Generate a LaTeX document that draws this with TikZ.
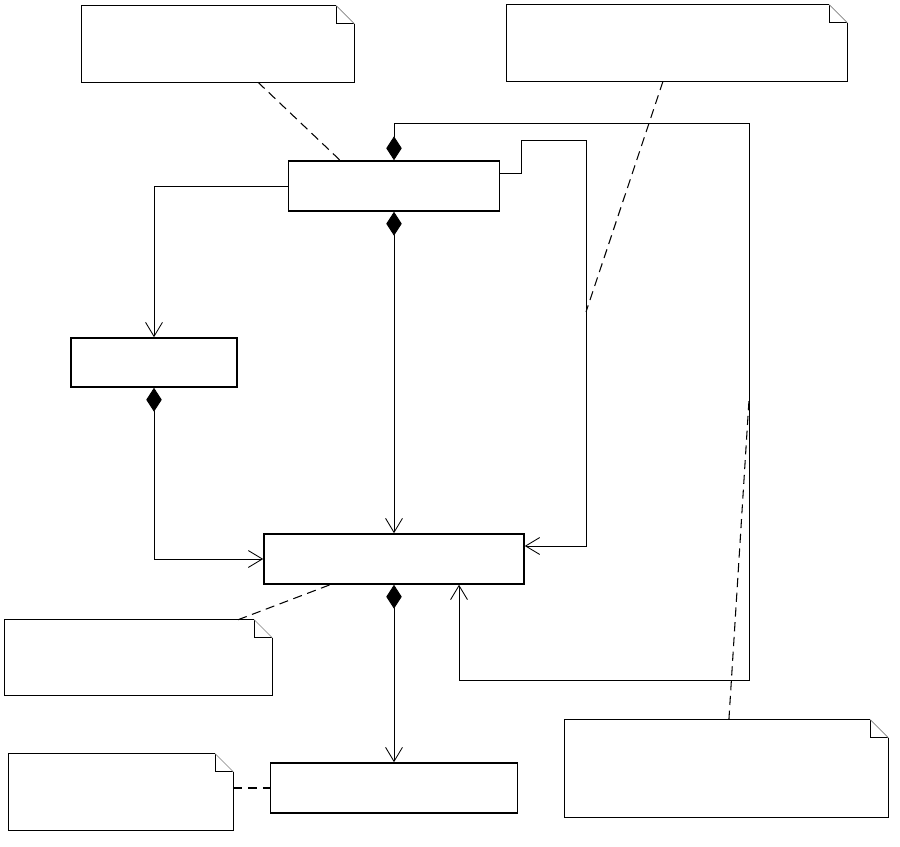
\documentclass[tikz,border=0pt]{standalone}
\usepackage{tikz}
\usetikzlibrary{arrows.meta,positioning,calc}

\tikzset{
    cls/.style={draw, line width=1.1pt, inner sep=0pt},
    note/.style={inner sep=0pt},
    link/.style={line width=0.6pt},
    assoc/.style={link, -{Straight Barb[length=10pt,width=12pt]}},
    comp/.style={link, {Diamond[length=17pt,width=11pt]}-{Straight Barb[length=10pt,width=12pt]}},
    anchorline/.style={line width=0.75pt, dash pattern=on 6.5pt off 4pt}
}

\newlength{\fold}
\setlength{\fold}{0.45cm}
\newcommand{\dognote}[1]{%
    \draw[line width=0.7pt] ([xshift=-\fold]#1.north east) -- (#1.north west) -- (#1.south west)
        -- (#1.south east) -- ([yshift=-\fold]#1.north east);
    \draw[line width=0.7pt] ([xshift=-\fold]#1.north east) |- ([yshift=-\fold]#1.north east);
    \draw[gray, line width=0.4pt] ([xshift=-\fold]#1.north east) -- ([yshift=-\fold]#1.north east);
}

\begin{document}
\begin{tikzpicture}[x=0.025cm, y=-0.025cm]
    \useasboundingbox (0,0) rectangle (900,847);

    % Classes
    \node[cls, minimum width=5.275cm, minimum height=1.25cm] (main) at (394,186) {};
    \node[cls, minimum width=4.15cm, minimum height=1.225cm] (side) at (154,362.5) {};
    \node[cls, minimum width=6.5cm, minimum height=1.25cm] (hub) at (394,559) {};
    \node[cls, minimum width=6.175cm, minimum height=1.25cm] (leaf) at (394,788) {};

    % Notes
    \node[note, minimum width=6.8cm, minimum height=1.9cm] (n1) at (218,44) {};
    \node[note, minimum width=8.5cm, minimum height=1.9cm] (n2) at (677,43) {};
    \node[note, minimum width=6.675cm, minimum height=1.875cm] (n3) at (138.5,657.5) {};
    \node[note, minimum width=5.6cm, minimum height=1.9cm] (n4) at (121,792) {};
    \node[note, minimum width=8.075cm, minimum height=2.425cm] (n5) at (726.5,768.5) {};
    \dognote{n1}
    \dognote{n2}
    \dognote{n3}
    \dognote{n4}
    \dognote{n5}

    % Associations
    \draw[assoc] (main.west) -| (side.north);
    \draw[comp] (main.south) -- (hub.north);
    \draw[comp] (main.north) -- ++(0,-37) -| (749,680) -| ([xshift=1.625cm]hub.south);
    \draw[assoc] ([yshift=0.325cm]main.east) -- ++(21,0) |- (586,140) |- ([yshift=0.325cm]hub.east);
    \draw[comp] (side.south) |- (hub.west);
    \draw[comp] (hub.south) -- (leaf.north);

    % Note anchors
    \coordinate (p2) at (586,312);
    \coordinate (p5) at (749,400);
    \draw[anchorline] ([xshift=1cm]n1.south) -- ([xshift=-1.35cm]main.north);
    \draw[anchorline] ([xshift=-0.35cm]n2.south) -- (p2);
    \draw[anchorline] ([xshift=2.49cm]n3.north) -- ([xshift=-1.6cm]hub.south);
    \draw[anchorline] (n4.east |- leaf.west) -- (leaf.west);
    \draw[anchorline] ([xshift=0.06cm]n5.north) -- (p5);
\end{tikzpicture}
\end{document}
